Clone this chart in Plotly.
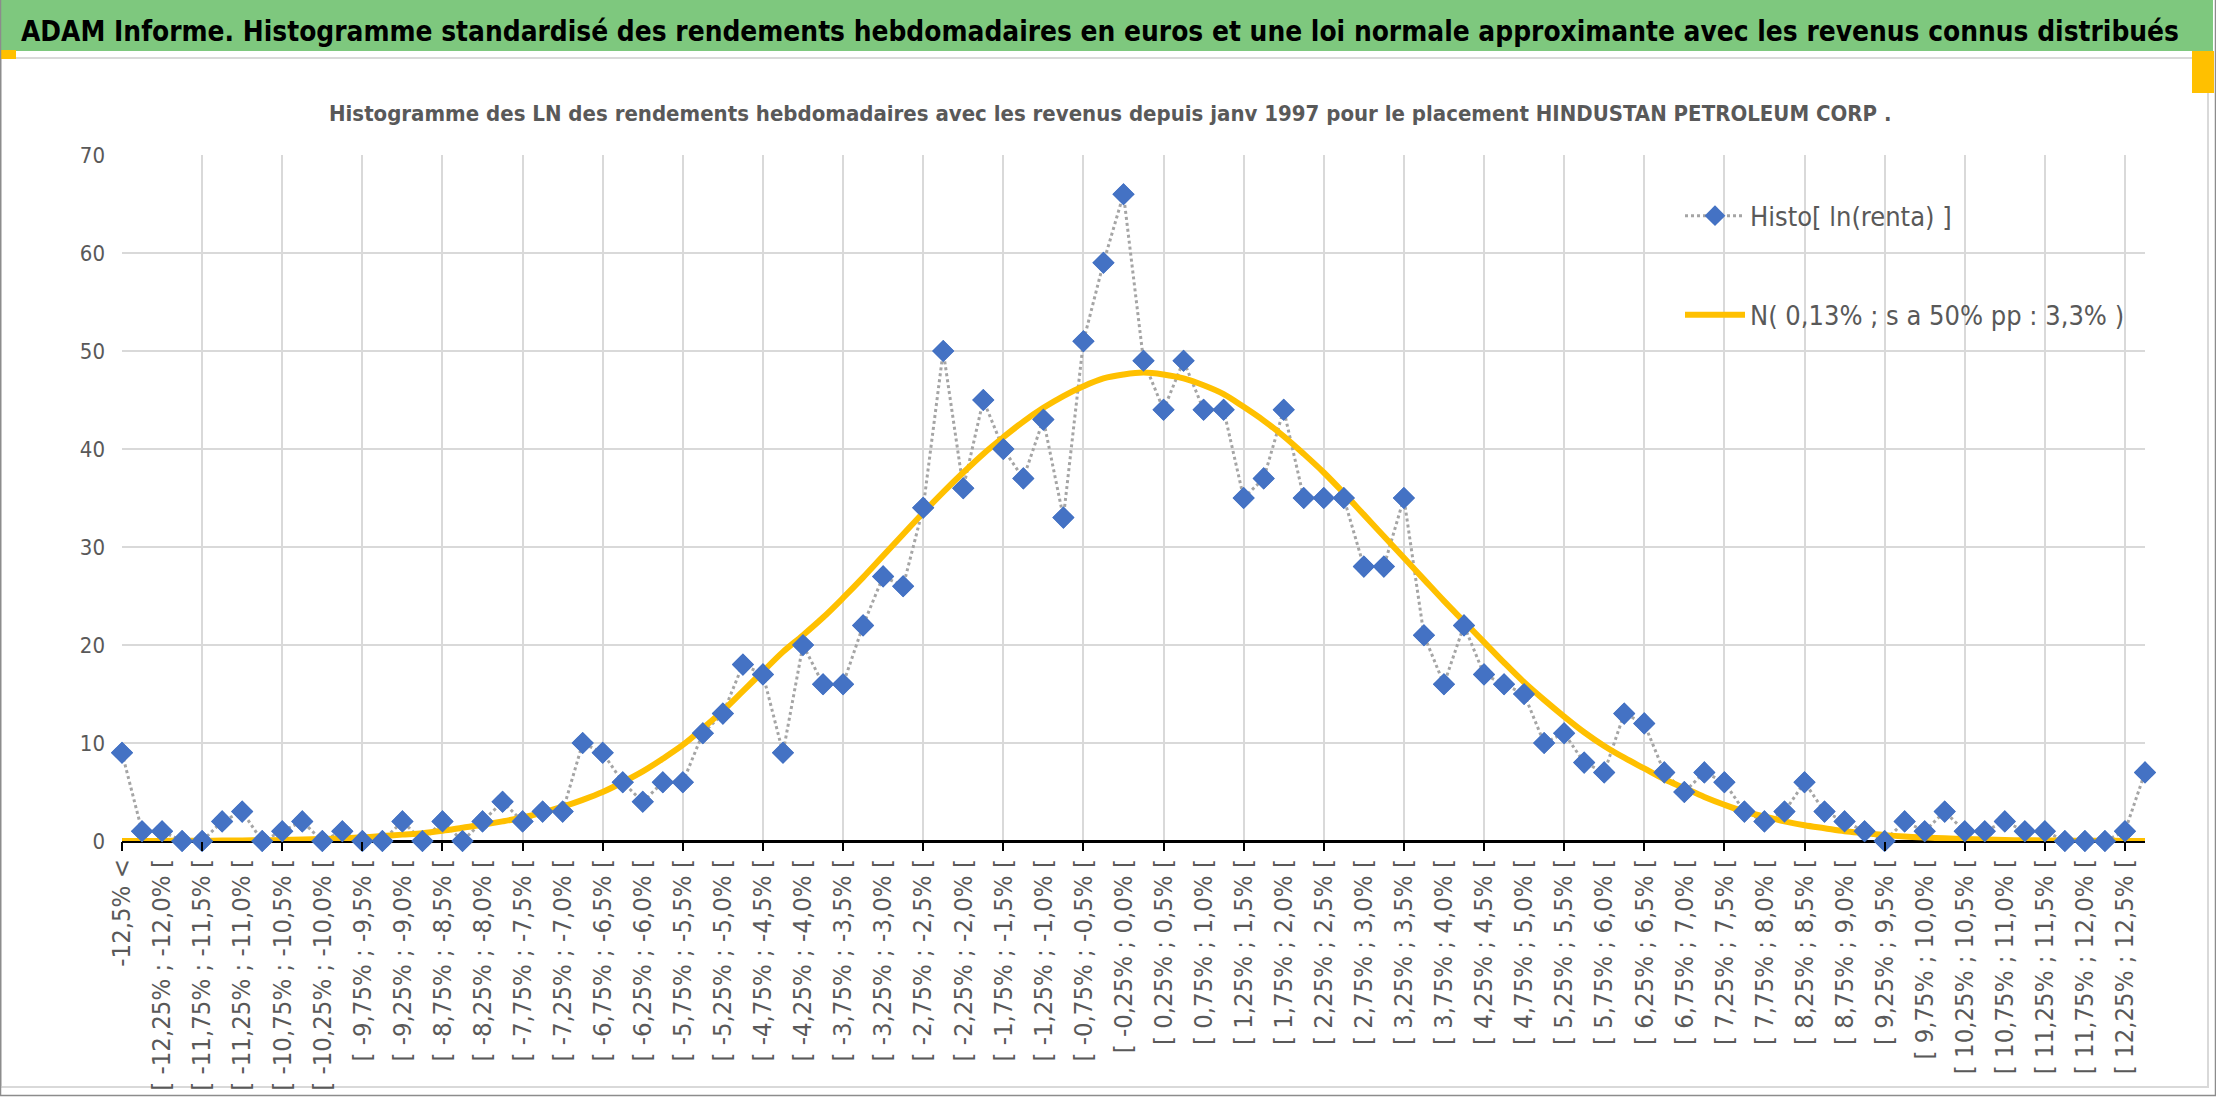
import plotly.graph_objects as go

# classes de rendements (pas de 0,25%)
bornes = [-12.5 + 0.25 * k for k in range(101)]


def fmt(v):
    s = f"{v:.2f}".rstrip("0")
    if s.endswith("."):
        s += "0"
    return s.replace(".", ",")


categories = ["-12,5% <"]
categories += ["[ " + fmt(a) + "% ; " + fmt(b) + "% [" for a, b in zip(bornes[:-1], bornes[1:])]
categories += ["> 12,5%"]

# histogramme (nombre de semaines par classe)
histo = [9, 1, 1, 0, 0, 2, 3, 0, 1, 2, 0, 1, 0, 0, 2,
         0, 2, 0, 2, 4, 2, 3, 3, 10, 9, 6, 4, 6, 6, 11,
         13, 18, 17, 9, 20, 16, 16, 22, 27, 26, 34, 50, 36, 45, 40,
         37, 43, 33, 51, 59, 66, 49, 44, 49, 44, 44, 35, 37, 44, 35,
         35, 35, 28, 28, 35, 21, 16, 22, 17, 16, 15, 10, 11, 8, 7,
         13, 12, 7, 5, 7, 6, 3, 2, 3, 6, 3, 2, 1, 0, 2,
         1, 3, 1, 1, 2, 1, 1, 0, 0, 0, 1, 7]

# loi normale approximante
normale = [0.0, 0.01, 0.01, 0.02, 0.03, 0.04, 0.05, 0.08, 0.1, 0.15, 0.2, 0.27, 0.37, 0.5, 0.65,
           0.8, 1.05, 1.35, 1.65, 2.0, 2.4, 2.9, 3.5, 4.2, 5.0, 6.0, 7.1, 8.4, 9.8, 11.5,
           13.3, 15.3, 17.3, 19.3, 21.0, 22.8, 24.8, 26.9, 29.1, 31.3, 33.5, 35.6, 37.6, 39.5, 41.2,
           42.8, 44.2, 45.4, 46.4, 47.2, 47.6, 47.8, 47.6, 47.2, 46.5, 45.6, 44.3, 42.9, 41.3, 39.5,
           37.6, 35.5, 33.3, 31.1, 28.9, 26.7, 24.5, 22.4, 20.3, 18.2, 16.2, 14.4, 12.7, 11.1, 9.7,
           8.5, 7.4, 6.3, 5.4, 4.5, 3.7, 3.0, 2.5, 2.0, 1.6, 1.3, 1.0, 0.8, 0.6, 0.45,
           0.35, 0.27, 0.2, 0.15, 0.1, 0.08, 0.05, 0.04, 0.03, 0.02, 0.01, 0.0]

titre = ("ADAM Informe. Histogramme standardisé des rendements hebdomadaires en euros "
         "et une loi normale approximante avec les revenus connus distribués")
sous_titre = ("Histogramme des LN des rendements hebdomadaires avec les revenus depuis janv 1997 "
              "pour le placement HINDUSTAN PETROLEUM CORP .")
nom_histo = "Histo[ ln(renta) ]"
nom_normale = "N( 0,13% ; s a 50% pp : 3,3% )"

POLICE = "DejaVu Sans Condensed, Liberation Sans Narrow, Roboto Condensed, DejaVu Sans, sans-serif"
GRIS = "#595959"
BLEU = "#4472C4"
JAUNE = "#FFC000"

W, H = 2216, 1103
L, R, T, B = 122, 71, 155, 255


def rect(x0, y0, x1, y1, **kw):
    # coordonnees en pixels de la page
    return dict(type="rect", xref="paper", yref="paper",
                xsizemode="pixel", ysizemode="pixel", xanchor=0, yanchor=0,
                x0=x0 - L, x1=x1 - L, y0=(H - B) - y0, y1=(H - B) - y1, **kw)


fig = go.Figure()

fig.add_trace(go.Scatter(x=categories, y=histo, name=nom_histo, mode="lines+markers",
                         line=dict(color="#A5A5A5", width=3, dash="dot"),
                         marker=dict(symbol="diamond", size=17, color=BLEU),
                         legendrank=1, legendgroup="a", cliponaxis=False))
fig.add_trace(go.Scatter(x=categories, y=normale, name=nom_normale, mode="lines",
                         line=dict(color=JAUNE, width=6, shape="spline"),
                         legendrank=2, legendgroup="b", cliponaxis=False))
fig.add_trace(go.Scatter(x=categories, y=histo, mode="markers", xaxis="x2",
                         marker=dict(symbol="diamond", size=17, color=BLEU),
                         showlegend=False, cliponaxis=False, hoverinfo="skip"))

shapes = [
    rect(1, 3, 2213, 58, fillcolor="#7EC87E", line=dict(width=0), layer="below"),
    rect(1, 65, 2208, 1094, line=dict(color="#D9D9D9", width=2), layer="below"),
    rect(1, 57, 16, 66, fillcolor=JAUNE, line=dict(width=0)),
    rect(2192, 58, 2214, 100, fillcolor=JAUNE, line=dict(width=0)),
    rect(1635, 163, 2147, 365, fillcolor="white", line=dict(width=0), layer="between"),
    rect(0.5, 0.5, 2215.5, 1102.5, line=dict(color="#8C8C8C", width=1.5)),
]

fig.update_layout(
    width=W, height=H, autosize=False,
    margin=dict(l=L, r=R, t=T, b=B),
    paper_bgcolor="white", plot_bgcolor="white",
    font=dict(family=POLICE, color=GRIS),
    shapes=shapes,
    showlegend=True,
    legend=dict(x=(1680 - L) / (W - L - R), y=(H - B - 192) / (H - T - B),
                xanchor="left", yanchor="top", bgcolor="rgba(0,0,0,0)",
                font=dict(size=27, color=GRIS, family=POLICE),
                itemwidth=60, tracegroupgap=61, traceorder="grouped"),
    xaxis=dict(type="category", categoryorder="array", categoryarray=categories,
               range=[0, len(categories) - 1],
               tickmode="array", tickvals=categories[::2], ticktext=categories[::2],
               tickangle=-90, tickfont=dict(size=25.5, color=GRIS),
               showgrid=False, ticks="", ticklabelstandoff=12, zeroline=False),
    xaxis2=dict(type="category", categoryorder="array", categoryarray=categories,
                overlaying="x", anchor="y", side="bottom",
                range=[0, len(categories) - 1],
                tickmode="array", tickvals=categories[::4], showticklabels=False,
                showgrid=True, gridcolor="#D9D9D9", gridwidth=1.5,
                ticks="outside", ticklen=9, tickwidth=2, tickcolor="black"),
    yaxis=dict(range=[0, 70], dtick=10, showgrid=True, gridcolor="#D9D9D9", gridwidth=1.5,
               zeroline=True, zerolinecolor="black", zerolinewidth=2.5,
               tickfont=dict(size=22, color=GRIS), ticks="", ticklabelstandoff=16,
               showline=False),
    annotations=[
        dict(text="<b>" + titre + "</b>", xref="paper", yref="paper",
             x=(1100 - L) / (W - L - R), y=(H - B - 30) / (H - T - B),
             xanchor="center", yanchor="middle", showarrow=False,
             font=dict(size=27.8, color="black", family=POLICE)),
        dict(text="<b>" + sous_titre + "</b>", xref="paper", yref="paper",
             x=(1110 - L) / (W - L - R), y=(H - B - 113) / (H - T - B),
             xanchor="center", yanchor="middle", showarrow=False,
             font=dict(size=22, color=GRIS, family=POLICE)),
    ],
)

# pas de marge du navigateur autour du graphique, pas de barre d'outils
fig.write_html("out.html", config={"displayModeBar": False},
               post_script="document.body.style.margin='0';")
